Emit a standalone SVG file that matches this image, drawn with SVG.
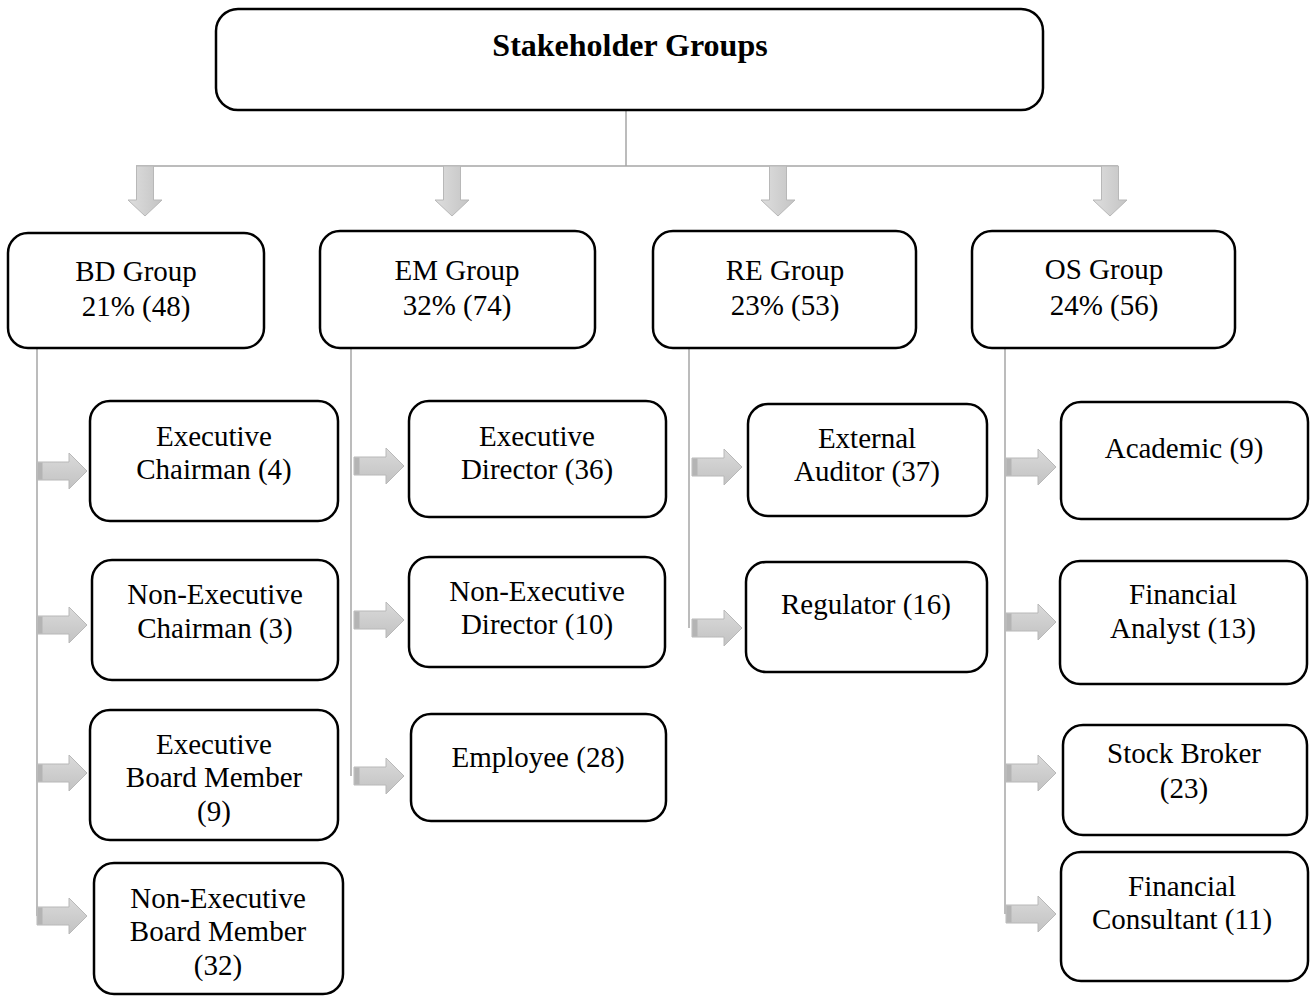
<svg xmlns="http://www.w3.org/2000/svg" width="1314" height="996" viewBox="0 0 1314 996">
  <defs>
    <linearGradient id="gDown" x1="0" y1="0" x2="1" y2="0">
      <stop offset="0" stop-color="#dedede"/>
      <stop offset="1" stop-color="#c4c4c4"/>
    </linearGradient>
    <linearGradient id="gRight" x1="0" y1="0" x2="0" y2="1">
      <stop offset="0" stop-color="#dadada"/>
      <stop offset="1" stop-color="#c2c2c2"/>
    </linearGradient>
    <!-- block arrows, drawn at origin and positioned by translate -->
    <path id="arrowDown" d="M-8.5,0 H8.5 V34 H17 L0,50 L-17,34 H-8.5 Z" fill="url(#gDown)" stroke="#b8b8b8" stroke-width="1"/>
    <g id="arrowRight">
      <path d="M0,-9 H32 V-18 L50,0 L32,18 V9 H0 Z" fill="url(#gRight)" stroke="#b8b8b8" stroke-width="1"/>
      <rect x="0.5" y="-8.5" width="5" height="17" fill="#b4b4b4"/>
    </g>
  </defs>
  <style>
    .box { fill: #ffffff; stroke: #000000; stroke-width: 2.5; }
    .line { fill: none; stroke: #a6a6a6; stroke-width: 1.5; }
    text { font-family: "Liberation Serif", "Times New Roman", serif; font-size: 29px; fill: #000000; text-anchor: middle; }
    .title { font-weight: bold; font-size: 32px; }
  </style>

  <rect width="1314" height="996" fill="#ffffff"/>

  <!-- connectors -->
  <g id="connectors">
    <path class="line" d="M626,110 V166 M136,166 H1118"/>
    <use href="#arrowDown" x="145" y="166"/>
    <use href="#arrowDown" x="452" y="166"/>
    <use href="#arrowDown" x="778" y="166"/>
    <use href="#arrowDown" x="1110" y="166"/>

    <path class="line" d="M37,348 V916 M351,348 V776 M689,348 V628 M1005,348 V914"/>

    <use href="#arrowRight" x="37" y="471"/>
    <use href="#arrowRight" x="37" y="625"/>
    <use href="#arrowRight" x="37" y="773"/>
    <use href="#arrowRight" x="37" y="916"/>

    <use href="#arrowRight" x="354" y="466"/>
    <use href="#arrowRight" x="354" y="620"/>
    <use href="#arrowRight" x="354" y="776"/>

    <use href="#arrowRight" x="692" y="467"/>
    <use href="#arrowRight" x="692" y="628"/>

    <use href="#arrowRight" x="1006" y="467"/>
    <use href="#arrowRight" x="1006" y="622"/>
    <use href="#arrowRight" x="1006" y="773"/>
    <use href="#arrowRight" x="1006" y="914"/>
  </g>

  <!-- root -->
  <g id="stakeholder-groups">
    <rect class="box" x="216" y="9" width="827" height="101" rx="22"/>
    <text class="title" x="630" y="56">Stakeholder Groups</text>
  </g>

  <!-- group level -->
  <g id="bd-group">
    <rect class="box" x="8" y="233" width="256" height="115" rx="20"/>
    <text x="136" y="281">BD Group</text>
    <text x="136" y="316">21% (48)</text>
  </g>
  <g id="em-group">
    <rect class="box" x="320" y="231" width="275" height="117" rx="20"/>
    <text x="457" y="280">EM Group</text>
    <text x="457" y="315">32% (74)</text>
  </g>
  <g id="re-group">
    <rect class="box" x="653" y="231" width="263" height="117" rx="20"/>
    <text x="785" y="280">RE Group</text>
    <text x="785" y="315">23% (53)</text>
  </g>
  <g id="os-group">
    <rect class="box" x="972" y="231" width="263" height="117" rx="20"/>
    <text x="1104" y="279">OS Group</text>
    <text x="1104" y="315">24% (56)</text>
  </g>

  <!-- BD members -->
  <g id="executive-chairman">
    <rect class="box" x="90" y="401" width="248" height="120" rx="20"/>
    <text x="214" y="446">Executive</text>
    <text x="214" y="479">Chairman (4)</text>
  </g>
  <g id="non-executive-chairman">
    <rect class="box" x="92" y="560" width="246" height="120" rx="20"/>
    <text x="215" y="604">Non-Executive</text>
    <text x="215" y="638">Chairman (3)</text>
  </g>
  <g id="executive-board-member">
    <rect class="box" x="90" y="710" width="248" height="130" rx="20"/>
    <text x="214" y="754">Executive</text>
    <text x="214" y="787">Board Member</text>
    <text x="214" y="821">(9)</text>
  </g>
  <g id="non-executive-board-member">
    <rect class="box" x="94" y="863" width="249" height="131" rx="20"/>
    <text x="218" y="908">Non-Executive</text>
    <text x="218" y="941">Board Member</text>
    <text x="218" y="975">(32)</text>
  </g>

  <!-- EM members -->
  <g id="executive-director">
    <rect class="box" x="409" y="401" width="257" height="116" rx="20"/>
    <text x="537" y="446">Executive</text>
    <text x="537" y="479">Director (36)</text>
  </g>
  <g id="non-executive-director">
    <rect class="box" x="409" y="557" width="256" height="110" rx="20"/>
    <text x="537" y="601">Non-Executive</text>
    <text x="537" y="634">Director (10)</text>
  </g>
  <g id="employee">
    <rect class="box" x="411" y="714" width="255" height="107" rx="20"/>
    <text x="538" y="767">Employee (28)</text>
  </g>

  <!-- RE members -->
  <g id="external-auditor">
    <rect class="box" x="748" y="404" width="239" height="112" rx="20"/>
    <text x="867" y="448">External</text>
    <text x="867" y="481">Auditor (37)</text>
  </g>
  <g id="regulator">
    <rect class="box" x="746" y="562" width="241" height="110" rx="20"/>
    <text x="866" y="614">Regulator (16)</text>
  </g>

  <!-- OS members -->
  <g id="academic">
    <rect class="box" x="1061" y="402" width="247" height="117" rx="20"/>
    <text x="1184" y="458">Academic (9)</text>
  </g>
  <g id="financial-analyst">
    <rect class="box" x="1060" y="561" width="247" height="123" rx="20"/>
    <text x="1183" y="604">Financial</text>
    <text x="1183" y="638">Analyst (13)</text>
  </g>
  <g id="stock-broker">
    <rect class="box" x="1063" y="725" width="244" height="110" rx="20"/>
    <text x="1184" y="763">Stock Broker</text>
    <text x="1184" y="798">(23)</text>
  </g>
  <g id="financial-consultant">
    <rect class="box" x="1061" y="852" width="247" height="129" rx="20"/>
    <text x="1182" y="896">Financial</text>
    <text x="1182" y="929">Consultant (11)</text>
  </g>
</svg>
